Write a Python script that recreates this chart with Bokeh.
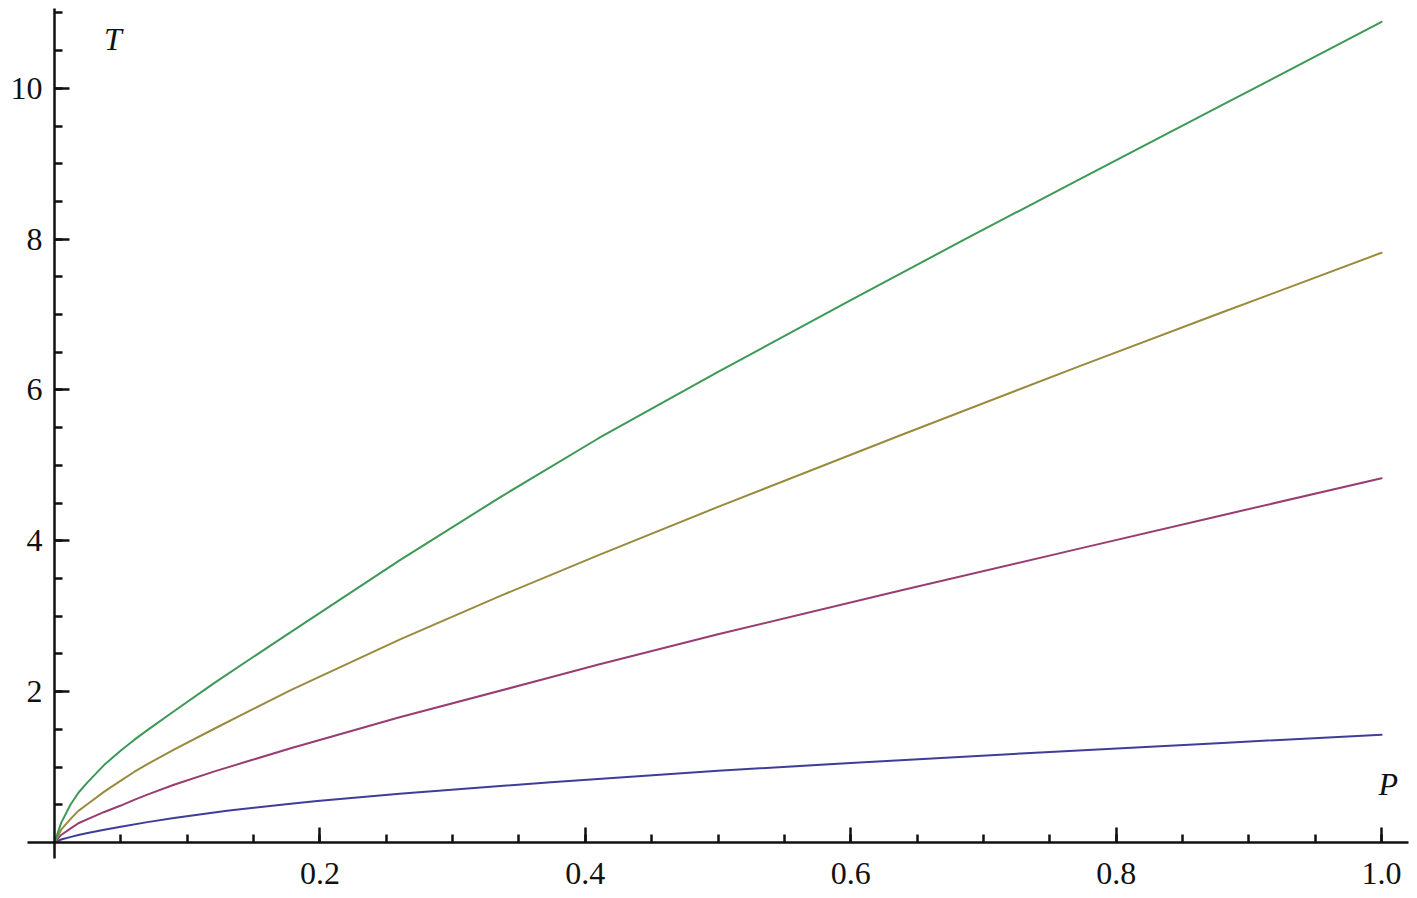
from bokeh.plotting import figure
from bokeh.models import Range1d, LinearAxis, FixedTicker, Label
from bokeh.embed import file_html
from bokeh.resources import INLINE

# ---- data ----
p_green = [0, 0.005, 0.012, 0.018, 0.025, 0.0375, 0.05, 0.06, 0.07, 0.09, 0.12, 0.148, 0.178, 0.26, 0.336, 0.41, 0.5, 0.6, 0.683, 0.773, 0.88, 1.0]
t_green = [0, 0.26, 0.50, 0.66, 0.80, 1.03, 1.22, 1.36, 1.49, 1.74, 2.11, 2.44, 2.79, 3.74, 4.58, 5.36, 6.24, 7.19, 7.97, 8.80, 9.78, 10.88]

p_olive = [0, 0.005, 0.0125, 0.018, 0.025, 0.0375, 0.05, 0.06, 0.07, 0.09, 0.12, 0.148, 0.178, 0.26, 0.336, 0.41, 0.5, 0.6375, 0.773, 0.88, 1.0]
t_olive = [0, 0.17, 0.32, 0.42, 0.51, 0.675, 0.82, 0.935, 1.04, 1.23, 1.505, 1.755, 2.02, 2.69, 3.27, 3.81, 4.45, 5.40, 6.32, 7.03, 7.82]

p_purple = [0, 0.005, 0.0125, 0.018, 0.025, 0.0375, 0.05, 0.06, 0.07, 0.09, 0.12, 0.148, 0.178, 0.26, 0.374, 0.41, 0.5, 0.6375, 0.773, 0.88, 1.0]
t_purple = [0, 0.10, 0.19, 0.255, 0.31, 0.405, 0.49, 0.565, 0.635, 0.765, 0.94, 1.09, 1.25, 1.66, 2.19, 2.36, 2.76, 3.34, 3.90, 4.34, 4.83]

p_blue = [0, 0.005, 0.0125, 0.018, 0.025, 0.0375, 0.05, 0.07, 0.09, 0.13, 0.178, 0.198, 0.26, 0.374, 0.5, 0.6, 0.75, 0.88, 1.0]
t_blue = [0, 0.04, 0.075, 0.10, 0.125, 0.17, 0.21, 0.27, 0.325, 0.42, 0.515, 0.55, 0.645, 0.80, 0.95, 1.055, 1.20, 1.32, 1.43]

x_major = [0.2, 0.4, 0.6, 0.8, 1.0]
x_labels = ["0.2", "0.4", "0.6", "0.8", "1.0"]
x_minor = [round(0.05 * i, 2) for i in range(1, 21)]
y_major = [2, 4, 6, 8, 10]
y_labels = ["2", "4", "6", "8", "10"]
y_minor = [0.5 * i for i in range(1, 23)]

colors = {"blue": "#3F3D99", "purple": "#993D71", "olive": "#998B3D", "green": "#3D9956"}

FONT = "'Liberation Serif', 'Times New Roman', serif"
INK = "#111111"

p = figure(width=1409, height=890, output_backend="svg", toolbar_location=None,
           x_range=Range1d(-0.04069, 1.02102), y_range=Range1d(-0.6364, 11.164),
           x_axis_location=None, y_axis_location=None,
           min_border_left=0, min_border_right=0, min_border_top=0, min_border_bottom=0)
p.outline_line_color = None
p.xgrid.visible = False
p.ygrid.visible = False
p.background_fill_color = "white"
p.border_fill_color = "white"

xa = LinearAxis(fixed_location=0, bounds=(-0.0203, 1.0203))
xa.ticker = FixedTicker(ticks=x_major, minor_ticks=x_minor)
xa.major_label_overrides = {v: s for v, s in zip(x_major, x_labels)}
ya = LinearAxis(fixed_location=0, bounds=(-0.21, 11.06))
ya.ticker = FixedTicker(ticks=y_major, minor_ticks=y_minor)
ya.major_label_overrides = {v: s for v, s in zip(y_major, y_labels)}

for ax in (xa, ya):
    ax.axis_line_width = 2.5
    ax.axis_line_color = INK
    ax.major_tick_line_width = 2.5
    ax.minor_tick_line_width = 2.5
    ax.major_tick_line_color = INK
    ax.minor_tick_line_color = INK
    ax.major_tick_in = 15
    ax.major_tick_out = 0
    ax.minor_tick_in = 8
    ax.minor_tick_out = 0
    ax.major_label_text_font = FONT
    ax.major_label_text_font_size = "32px"
    ax.major_label_text_color = INK
xa.major_label_standoff = 20
ya.major_label_standoff = 12

p.add_layout(xa, "below")
p.add_layout(ya, "left")

for px, ty, c in ((p_blue, t_blue, "blue"), (p_purple, t_purple, "purple"),
                  (p_olive, t_olive, "olive"), (p_green, t_green, "green")):
    p.line(px, ty, line_color=colors[c], line_width=2, line_join="round", line_cap="round")

p.add_layout(Label(x=0.044, y=10.66, text="T", text_font=FONT, text_font_style="italic",
                   text_font_size="32px", text_align="center", text_baseline="middle", text_color=INK))
p.add_layout(Label(x=1.005, y=0.78, text="P", text_font=FONT, text_font_style="italic",
                   text_font_size="32px", text_align="center", text_baseline="middle", text_color=INK))

open("out.html", "w").write(file_html(p, INLINE))
